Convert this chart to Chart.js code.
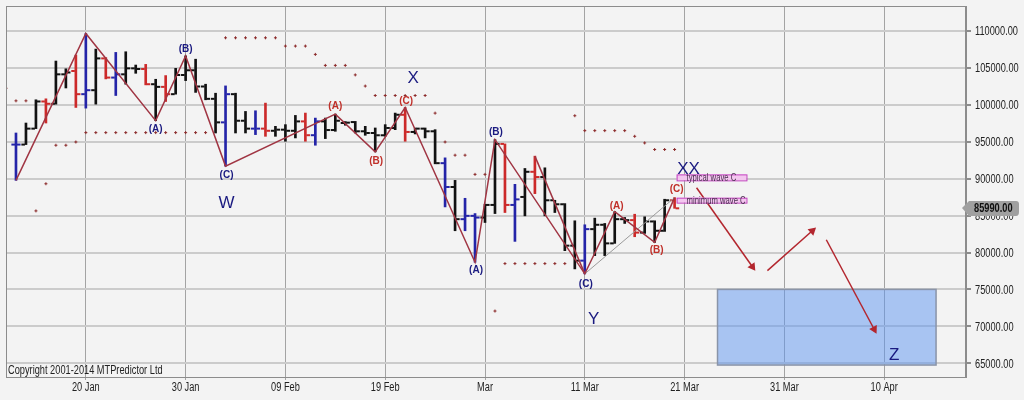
<!DOCTYPE html>
<html>
<head>
<meta charset="utf-8">
<script src="https://cdn.jsdelivr.net/npm/chart.js@4.4.1/dist/chart.umd.min.js"></script>
<style>
  html, body { margin: 0; padding: 0; background: #f3f3f3; }
  #wrap { width: 1024px; height: 400px; }
</style>
</head>
<body>
<div id="wrap"><canvas id="chart" width="1024" height="400"></canvas></div>
<script>
// days are counted from 20 Jan (day 0); first bar is 13 Jan
const FIRST_DAY = -7;
const tickDays = [0, 10, 20, 30, 40, 50, 60, 70, 80];
const tickLabels = ["20 Jan", "30 Jan", "09 Feb", "19 Feb", "Mar", "11 Mar", "21 Mar", "31 Mar", "10 Apr"];
const yTicks = [65000, 70000, 75000, 80000, 85000, 90000, 95000, 100000, 105000, 110000];

const open = [94630, 94630, 96790, 100470, 100160, 104150, 104600, 101460, 102000, 106310,
  103710, 104150, 104960, 104870, 102810, 102450, 101460, 104060, 104700, 102500,
  100830, 97640, 101460, 97860, 96790, 96790, 96500, 96650, 96500, 97770,
  95900, 97770, 96600, 97550, 97680, 96430, 96200, 95890, 96880, 98670,
  96340, 96790, 96430, 92110, 88880, 84520, 84970, 84740, 86450, 94720,
  86450, 87530, 90940, 90230, 87080, 86540, 80930, 78900, 83170, 83760,
  81240, 84520, 84390, 82700, 84210, 82950, 87080];
const high = [96200, 97550, 100700, 100830, 105950, 104900, 106760, 109680, 107570, 106420,
  107120, 107210, 105410, 105500, 103480, 103980, 104960, 106650, 106200, 102810,
  101590, 102580, 101590, 99120, 99210, 100250, 97100, 97330, 98580, 98900,
  98220, 98220, 98760, 97750, 97770, 97100, 96880, 97330, 98900, 99660,
  96880, 96880, 96650, 92830, 89780, 87350, 85280, 86540, 95300, 94720,
  89240, 91390, 93060, 91480, 87080, 86630, 84300, 83760, 84660, 83940,
  85550, 84750, 85190, 84840, 84300, 87220, 87440];
const low = [89780, 94630, 96790, 97550, 100110, 102300, 99660, 99570, 100110, 103530,
  101280, 102810, 104290, 102720, 97870, 100470, 101460, 103300, 101700, 100700,
  96200, 91710, 96200, 96200, 95980, 95750, 95750, 95080, 95530, 95080,
  94540, 95440, 96430, 97250, 96200, 95890, 93640, 95750, 96650, 95080,
  96070, 95530, 92020, 86180, 82950, 82950, 78680, 84070, 85280, 85420,
  81510, 84970, 87980, 84970, 85420, 80250, 77780, 77110, 79580, 79580,
  81240, 83940, 82140, 82590, 81370, 82860, 85990];
const close = [94630, 96790, 100470, 100160, 104150, 104400, 101460, 102000, 106310, 103710,
  104150, 104960, 104870, 102810, 102450, 101460, 104060, 104700, 102500, 100830,
  97640, 101460, 97860, 96790, 96790, 96500, 96650, 96500, 97770, 95900,
  97770, 96600, 97860, 97600, 96430, 96200, 95890, 96880, 98670, 96340,
  96790, 96430, 92110, 88880, 84520, 84970, 84740, 86450, 94720, 86450,
  87200, 90940, 90230, 87080, 86540, 80930, 78900, 83170, 83760, 81240,
  84520, 84390, 82700, 84210, 82950, 87080, 85990];
// MTPredictor bar colouring: k = black, r = red, b = blue
const barTone = ["b", "k", "k", "r", "k", "k", "r", "b", "k", "r",
  "b", "k", "k", "r", "k", "r", "k", "k", "k", "k",
  "k", "b", "k", "k", "b", "r", "k", "k", "k", "r",
  "b", "k", "k", "k", "k", "k", "k", "k", "k", "r",
  "k", "k", "k", "b", "k", "b", "b", "k", "k", "r",
  "b", "k", "r", "k", "k", "k", "k", "b", "k", "k",
  "k", "k", "r", "k", "k", "k", "r"];

// parabolic SAR dots, from 12 Jan (day -8)
const SAR_FIRST_DAY = -8;
const sar = [102260, 100560, 100560, 85640, 89320, 94540, 94540, 94980,
  96250, 96250, 96250, 96250, 96250, 96250, 96250, 96250, 96250, 96250, 96250, 96250, 96250,
  null,
  109100, 109100, 109100, 109100, 109100, 109100,
  107980, 107980, 107980, 106850, 105360, 105360, 105360, 104070, 102560,
  101280, 101280, 101280, 101280, 101280, 101280,
  98890, 94980, 93190, 93190, 90590, 90590, 72070,
  78500, 78500, 78500, 78500, 78500, 78500, 78500,
  98540, 96520, 96520, 96520, 96520, 96520, 95750, 94850, 93960, 93960, 93960];

// wave count pivots
const waveDays = [-7, 0, 7, 10, 14, 25, 29, 32, 39, 41, 50, 53, 57, 59];
const wavePrices = [89780, 109680, 97870, 106650, 91710, 98760, 93640, 99660, 78680, 95300, 77110, 85550, 81370, 87440];
const altWaveDays = [45, 50];
const altWavePrices = [93060, 77110];
const channelDays = [50, 59];
const channelPrices = [77110, 87440];

// projected path arrows
const arrowDays = [[61.2, 66.8], [68.3, 72.8], [74.2, 79.0]];
const arrowPrices = [[88780, 78070], [77550, 82950], [81730, 69600]];

// target zone for wave Z
const zoneDays = [63.3, 85.2];
const zonePrices = [64750, 75000];

// wave C targets
const targetNames = ["typical wave C", "minimum wave C"];
const targetDays = [59.2, 66.2];
const targetTop = [90590, 87430];
const targetBottom = [89780, 86760];

// wave labels
const labelText = ["(A)", "(B)", "(C)", "W", "(A)", "(B)", "(C)", "X", "(A)", "(B)", "(C)", "Y", "(A)", "(B)", "(C)", "XX", "Z"];
const labelDegree = ["n", "n", "n", "n", "r", "r", "r", "n", "n", "n", "n", "n", "r", "r", "r", "n", "n"];
const labelDays = [7, 10, 14.1, 14.1, 25, 29.1, 32.1, 32.8, 39.1, 41.1, 50.1, 50.9, 53.2, 57.2, 59.2, 60.4, 81];
const labelPrices = [96700, 107610, 90490, 86630, 99890, 92380, 100560, 103570, 77560, 96290, 75740, 70950, 86320, 80340, 88510, 91260, 66100];

const UI_FONT = "'Liberation Sans', Arial, sans-serif";
const SQUEEZE = 0.77;
const toneColor = { k: "#111111", r: "#cc2a2a", b: "#2424a8" };
const waveColor = "#a03543";
const arrowColor = "#b3262e";

const days = open.map((_, i) => FIRST_DAY + i);
const colors = barTone.map((t) => toneColor[t]);

// the original terminal uses a narrow UI font; squeeze Liberation Sans to match
function narrowText(ctx, text, x, y, align) {
  ctx.save();
  ctx.translate(x, y);
  ctx.scale(SQUEEZE, 1);
  ctx.textAlign = align;
  ctx.fillText(text, 0, 0);
  ctx.restore();
}

function arrowRotation(c) {
  const pts = c.dataset.data;
  const xs = c.chart.scales.x;
  const ys = c.chart.scales.y;
  const dx = xs.getPixelForValue(pts[1].x) - xs.getPixelForValue(pts[0].x);
  const dy = ys.getPixelForValue(pts[1].y) - ys.getPixelForValue(pts[0].y);
  return Math.atan2(dy, dx) * 180 / Math.PI + 90;
}

function zipPoints(xsArr, ysArr) {
  return xsArr.map((x, i) => ({ x, y: ysArr[i] }));
}

const arrowSets = arrowDays.map((ad, i) => ({
  type: "line",
  data: zipPoints(ad, arrowPrices[i]),
  borderColor: arrowColor,
  borderWidth: 1.5,
  pointRadius: [0, 5],
  pointStyle: "triangle",
  pointBackgroundColor: arrowColor,
  pointBorderWidth: 0,
  pointRotation: arrowRotation,
  order: 0,
}));

const overlay = {
  id: "overlay",
  beforeDatasetsDraw(chart) {
    const { ctx, scales: { x, y } } = chart;
    const x0 = x.getPixelForValue(zoneDays[0]);
    const x1 = x.getPixelForValue(zoneDays[1]);
    const y0 = y.getPixelForValue(zonePrices[1]);
    const y1 = y.getPixelForValue(zonePrices[0]);
    ctx.save();
    ctx.fillStyle = "rgba(93, 149, 241, 0.5)";
    ctx.fillRect(x0, y0, x1 - x0, y1 - y0);
    ctx.strokeStyle = "#8a94a8";
    ctx.lineWidth = 1.5;
    ctx.strokeRect(x0, y0, x1 - x0, y1 - y0);
    ctx.restore();
  },
  afterDatasetsDraw(chart) {
    const { ctx, chartArea: a, scales: { x, y } } = chart;
    ctx.save();
    // wave C target boxes
    const tx0 = x.getPixelForValue(targetDays[0]);
    const tx1 = x.getPixelForValue(targetDays[1]);
    targetNames.forEach((name, i) => {
      const ty0 = y.getPixelForValue(targetTop[i]);
      const ty1 = y.getPixelForValue(targetBottom[i]);
      ctx.fillStyle = "#f3c6ef";
      ctx.fillRect(tx0, ty0, tx1 - tx0, ty1 - ty0);
      ctx.strokeStyle = "#c445c0";
      ctx.lineWidth = 1;
      ctx.strokeRect(tx0 + 0.5, ty0 + 0.5, tx1 - tx0, ty1 - ty0);
      ctx.fillStyle = "#4a3050";
      ctx.font = "10px " + UI_FONT;
      ctx.textBaseline = "middle";
      narrowText(ctx, name, tx0 + 10, (ty0 + ty1) / 2 + 1, "left");
    });
    // wave labels
    ctx.textAlign = "center";
    ctx.textBaseline = "middle";
    labelText.forEach((t, i) => {
      const small = t.startsWith("(");
      ctx.fillStyle = labelDegree[i] === "r" ? "#c0302a" : "#1a1a80";
      ctx.font = small ? "bold 10px " + UI_FONT : "17px " + UI_FONT;
      ctx.fillText(t, x.getPixelForValue(labelDays[i]), y.getPixelForValue(labelPrices[i]));
    });
    ctx.textBaseline = "alphabetic";
    ctx.fillStyle = "#222";
    ctx.font = "12px " + UI_FONT;
    narrowText(ctx, "Copyright 2001-2014 MTPredictor Ltd", a.left + 2, a.bottom - 3, "left");
    ctx.restore();
  },
  afterDraw(chart) {
    const { ctx, chartArea: a, scales: { x, y } } = chart;
    ctx.save();
    ctx.strokeStyle = "#8c8c8c";
    ctx.lineWidth = 1;
    ctx.strokeRect(a.left + 0.5, a.top + 0.5, a.right - a.left - 1, a.bottom - a.top);
    // axis labels
    ctx.fillStyle = "#222";
    ctx.font = "12px " + UI_FONT;
    ctx.textBaseline = "middle";
    tickDays.forEach((d, i) => {
      narrowText(ctx, tickLabels[i], x.getPixelForValue(d), a.bottom + 11, "center");
    });
    yTicks.forEach((v) => {
      narrowText(ctx, v.toFixed(2), a.right + 9, y.getPixelForValue(v) + 1, "left");
    });
    // last price tag
    const last = close[close.length - 1];
    const py = Math.round(y.getPixelForValue(last));
    ctx.fillStyle = "#a0a0a0";
    ctx.beginPath();
    ctx.moveTo(a.right - 4, py);
    ctx.lineTo(a.right + 3, py - 7);
    ctx.lineTo(1016, py - 7);
    ctx.quadraticCurveTo(1019, py - 7, 1019, py - 4);
    ctx.lineTo(1019, py + 4);
    ctx.quadraticCurveTo(1019, py + 8, 1016, py + 8);
    ctx.lineTo(a.right + 3, py + 8);
    ctx.closePath();
    ctx.fill();
    ctx.fillStyle = "#111";
    ctx.font = "bold 12px " + UI_FONT;
    narrowText(ctx, last.toFixed(2), a.right + 8, py + 1, "left");
    ctx.restore();
  },
};

new Chart(document.getElementById("chart"), {
  type: "bar",
  data: {
    datasets: [
      {
        type: "line",
        data: zipPoints(waveDays, wavePrices),
        borderColor: waveColor,
        borderWidth: 1.5,
        pointRadius: 0,
        order: 0,
      },
      {
        type: "line",
        data: zipPoints(altWaveDays, altWavePrices),
        borderColor: waveColor,
        borderWidth: 1.5,
        pointRadius: 0,
        order: 0,
      },
      {
        type: "line",
        data: zipPoints(channelDays, channelPrices),
        borderColor: "#9a9a9a",
        borderWidth: 1,
        pointRadius: 0,
        order: 0,
      },
      ...arrowSets,
      {
        type: "scatter",
        data: days.map((d, i) => ({ x: d - 0.28, y: open[i] })),
        pointStyle: "line",
        pointRadius: 1.8,
        pointBorderWidth: 2,
        pointBorderColor: colors,
        order: 1,
      },
      {
        type: "scatter",
        data: days.map((d, i) => ({ x: d + 0.28, y: close[i] })),
        pointStyle: "line",
        pointRadius: 1.8,
        pointBorderWidth: 2,
        pointBorderColor: colors,
        order: 1,
      },
      {
        type: "bar",
        data: days.map((d, i) => ({ x: d, y: [low[i], high[i]] })),
        backgroundColor: colors,
        barThickness: 2,
        order: 2,
      },
      {
        type: "scatter",
        data: sar.map((v, i) => ({ x: SAR_FIRST_DAY + i, y: v })),
        pointStyle: "cross",
        pointRadius: 1.5,
        pointBorderWidth: 1,
        pointBorderColor: "#8b2a2a",
        order: 3,
      },
    ],
  },
  options: {
    responsive: false,
    animation: false,
    events: [],
    layout: { padding: { left: 4, top: 4, right: 0, bottom: 0 } },
    plugins: { legend: { display: false }, tooltip: { enabled: false } },
    scales: {
      x: {
        type: "linear",
        min: -8,
        max: 88.2,
        offset: false,
        afterBuildTicks(s) { s.ticks = tickDays.map((v) => ({ value: v })); },
        afterFit(s) { s.height = 23; },
        grid: { color: "#a3a3a3", lineWidth: 1, offset: false, tickLength: 3 },
        border: { display: true, color: "#8c8c8c" },
        ticks: { display: false },
      },
      y: {
        type: "linear",
        position: "right",
        min: 63130,
        max: 113410,
        afterBuildTicks(s) { s.ticks = yTicks.map((v) => ({ value: v })); },
        afterFit(s) { s.width = 58; },
        grid: { color: "#cbcbcb", lineWidth: 2, tickLength: 5, tickColor: "#8c8c8c" },
        border: { display: true, color: "#8c8c8c" },
        ticks: { display: false },
      },
    },
  },
  plugins: [overlay],
});
</script>
</body>
</html>
